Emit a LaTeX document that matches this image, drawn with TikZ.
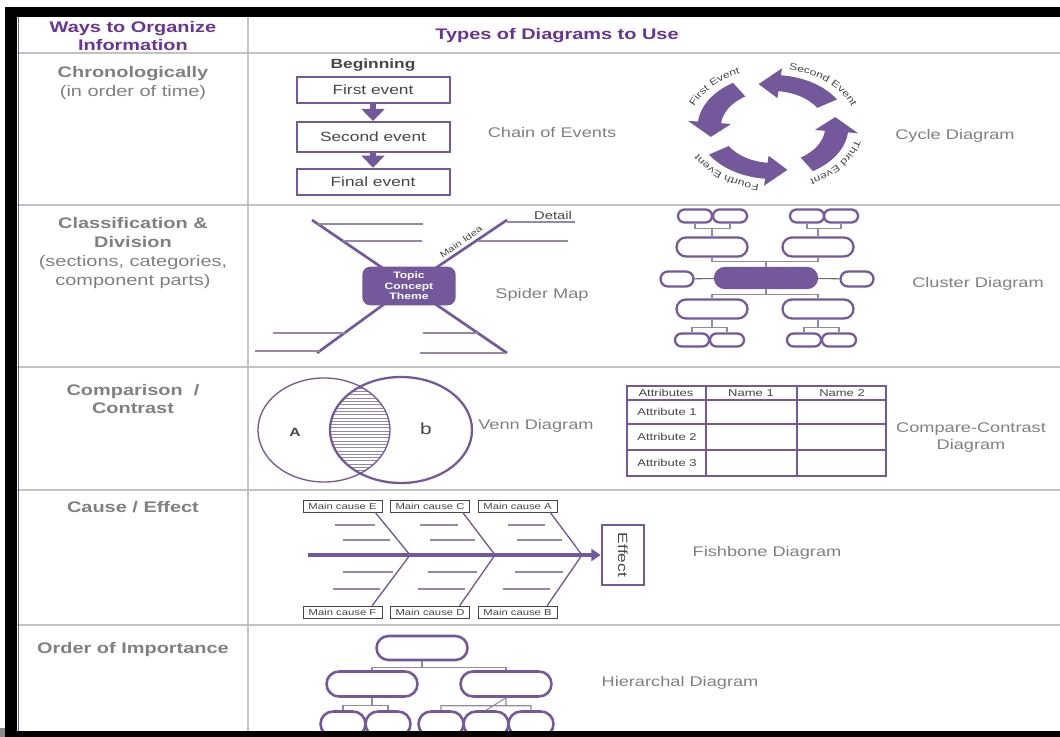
\documentclass[tikz,border=0pt]{standalone}
\usepackage{fontspec}
\setmainfont{Liberation Sans}[FakeStretch=1.3]
\usetikzlibrary{arrows.meta,positioning,shapes.misc,decorations.text}
\definecolor{orgpurple}{RGB}{115,88,155}
\definecolor{orghead}{RGB}{104,52,150}
\definecolor{orggray}{RGB}{128,128,128}
\definecolor{orgdark}{RGB}{70,70,70}
\definecolor{orgrule}{RGB}{195,195,195}
\definecolor{orgtwig}{RGB}{150,135,170}

\begin{document}
\begin{tikzpicture}[x=0.75pt,y=-0.75pt, every node/.style={inner sep=0pt},
    head/.style={font=\bfseries\fontsize{11.5}{12.8}\selectfont,text=orghead,align=center},
    rowlbl/.style={font=\fontsize{11.5}{14.2}\selectfont,text=orggray,align=center},
    kind/.style={font=\fontsize{10.5}{12.8}\selectfont,text=orggray,align=center},
    evbox/.style={draw=orgpurple,line width=1.5pt,minimum width=114.75pt,minimum height=20pt,font=\fontsize{10}{12}\selectfont,text=orgdark},
    evarrow/.style={orgpurple,line width=4pt,-{Triangle[width=17pt,length=9pt]}},
    leg/.style={orgpurple,line width=2pt},
    twig/.style={orgtwig,line width=0.8pt},
    pill/.style={rounded rectangle,draw=orgpurple,line width=1.7pt},
    smalltxt/.style={font=\fontsize{6.5}{7.5}\selectfont,text=orgdark},
    cause/.style={smalltxt,draw=orgdark,line width=0.5pt,minimum width=59pt,minimum height=9pt},
    tbltxt/.style={font=\fontsize{7.5}{9}\selectfont,text=orgdark},
    topic/.style={fill=orgpurple,rounded corners=6pt,minimum width=70pt,minimum height=29pt,align=center,text=white,font=\bfseries\fontsize{7}{8}\selectfont},
    cyclbl/.style={decorate,decoration={text along path,text align=center,text color=orgdark}}]
  \fill[white] (0,0) rectangle (1060,737);
  \useasboundingbox (0,0) rectangle (1060,737);
  % table rules
  \foreach \y in {53,205,367,490,625} \draw[orgrule,line width=0.9pt] (17,\y) -- (1060,\y);
  \draw[orgrule,line width=0.9pt] (248,17) -- (248,731);
  \draw[orgpurple,line width=1.2pt] (18.5,17) -- (18.5,731);

  \node[head] (hways) at (133,36) {Ways to Organize\\Information};
  \node[head] (htypes) at (557,36) {Types of Diagrams to Use};

  \node[rowlbl] (rchron) at (133,83) {\textbf{Chronologically}\\(in order of time)};
  \node[rowlbl] (rclass) at (133,253) {\textbf{Classification \&}\\\textbf{Division}\\(sections, categories,\\component parts)};
  \node[rowlbl] (rcomp) at (133,399) {\textbf{Comparison\ \ /}\\\textbf{Contrast}};
  \node[rowlbl] (rcause) at (133,507) {\textbf{Cause / Effect}};
  \node[rowlbl] (rorder) at (133,650) {\textbf{Order of Importance}};

  % chain of events
  \node[font=\bfseries\fontsize{10}{12}\selectfont,text=orgdark] (beg) at (373,65) {Beginning};
  \node[evbox] (ev1) at (373,90) {First event};
  \node[evbox,minimum height=22.5pt] (ev2) at (373,137) {Second event};
  \node[evbox] (ev3) at (373,182) {Final event};
  \foreach \a/\b in {ev1/ev2,ev2/ev3} \draw[evarrow] (\a) -- (\b);
  \node[kind] (lchain) at (552,133) {Chain of Events};

  % cycle
  \begin{scope}[shift={(773,127)},xscale=1.45,yscale=-1]
    \foreach \t in {32,122,212,302}
      \fill[orgpurple] (\t:52) arc[start angle=\t,end angle=\t+52,radius=52] -- (\t+52:59) -- (\t+71:44)
        -- (\t+52:29) -- (\t+52:36) arc[start angle=\t+52,end angle=\t,radius=36] -- cycle;
    \path[cyclbl,decoration={text={|\fontsize{7}{8}\selectfont|First Event}}] (179:58) arc[start angle=179,end angle=99,radius=58];
    \path[cyclbl,decoration={text={|\fontsize{7}{8}\selectfont|Second Event}}] (88:58) arc[start angle=88,end angle=8,radius=58];
    \path[cyclbl,decoration={text={|\fontsize{7}{8}\selectfont|Third Event}}] (4:58) arc[start angle=4,end angle=-76,radius=58];
    \path[cyclbl,decoration={text={|\fontsize{7}{8}\selectfont|Fourth Event}}] (-88:58) arc[start angle=-88,end angle=-168,radius=58];
  \end{scope}
  \node[kind] (lcycle) at (955,136) {Cycle Diagram};

  % spider map
  \coordinate (ul) at (312,220);
  \coordinate (ur) at (507,220);
  \coordinate (ll) at (317,353);
  \coordinate (lr) at (507,353);
  \node[topic] (topic) at (409,286) {Topic\\Concept\\Theme};
  \foreach \c in {ul,ur,ll,lr} \draw[leg,shorten <=-4pt] (topic) -- (\c);
  \foreach \xa/\xb/\y in {318/423/224,343/422/241,507/575/222,478/568/241,273/345/333,255/320/351,423/478/333,420/505/353}
    \draw[twig] (\xa,\y) -- (\xb,\y);
  \node[smalltxt,rotate=35] (mainidea) at (461,242) {Main Idea};
  \node[font=\fontsize{8.5}{10}\selectfont,text=orgdark] (detail) at (553,215) {Detail};
  \node[kind] (lspider) at (542,295) {Spider Map};

  % cluster
  \node[pill,fill=orgpurple,minimum width=76.5pt,minimum height=15pt] (cmain) at (766,278) {};
  \node[pill,minimum width=24.75pt,minimum height=11.25pt] (cleft) at (677,279) {};
  \node[pill,minimum width=24.75pt,minimum height=11.25pt] (cright) at (857,279) {};
  \foreach \n/\x/\y in {cul/712/247,cur/818/247,cll/712/309,clr/818/309}
    \node[pill,minimum width=53.25pt,minimum height=14.25pt] (\n) at (\x,\y) {};
  \foreach \n/\x/\y in {cul1/695/216,cul2/730/216,cur1/807/216,cur2/841/216,cll1/692/340,cll2/727/340,clr1/804/340,clr2/839/340}
    \node[pill,minimum width=25.5pt,minimum height=9.75pt] (\n) at (\x,\y) {};
  \draw[twig,orgdark!80] (cleft) -- (cmain) (cmain) -- (cright);
  \foreach \p/\d/\a/\b in {cmain.north/-5.5/cul.south/cur.south,cmain.south/5.5/cll.north/clr.north,
      cul.north/-7.5/cul1.south/cul2.south,cur.north/-7.5/cur1.south/cur2.south,
      cll.south/7.5/cll1.north/cll2.north,clr.south/7.5/clr1.north/clr2.north}
    \draw[twig] (\p) -- ++(0,\d) -| (\a) (\p) ++(0,\d) -| (\b);
  \node[kind] (lcluster) at (978,284) {Cluster Diagram};

  % venn
  \begin{scope}
    \clip (324,430) ellipse[x radius=66,y radius=52];
    \clip (401,430) ellipse[x radius=71,y radius=53];
    \foreach \y in {375,378.3,...,486} \draw[twig,line width=0.5pt] (320,\y) -- (400,\y);
  \end{scope}
  \draw[orgpurple,line width=1pt] (324,430) ellipse[x radius=66,y radius=52];
  \draw[orgpurple,line width=1.7pt] (401,430) ellipse[x radius=71,y radius=53];
  \node[font=\bfseries\fontsize{9}{10}\selectfont,text=orgdark] (vA) at (295,432) {A};
  \node[font=\fontsize{12}{13}\selectfont,text=orgdark] (vB) at (426,429) {b};
  \node[kind,anchor=west] (lvenn) at (478,426) {Venn Diagram};

  % compare table
  \draw[orgpurple,line width=1pt] (706,386) -- (706,476) (797,386) -- (797,476) (627,424) -- (886,424) (627,450) -- (886,450);
  \draw[orgpurple,line width=2.2pt] (627,386) rectangle (886,476) (627,400) -- (886,400);
  \node[tbltxt] (tattr) at (666,393) {Attributes};
  \node[tbltxt] (tname1) at (751,393) {Name 1};
  \node[tbltxt] (tname2) at (842,393) {Name 2};
  \node[tbltxt] (tatt1) at (667,412) {Attribute 1};
  \node[tbltxt] (tatt2) at (667,437) {Attribute 2};
  \node[tbltxt] (tatt3) at (667,463) {Attribute 3};
  \node[kind] (lcompare) at (971,438) {Compare-Contrast\\Diagram};

  % fishbone
  \node[draw=orgpurple,line width=1.5pt,rotate=-90,minimum width=45pt,minimum height=32pt,font=\fontsize{10}{12}\selectfont,text=orgdark] (effect) at (623,555) {Effect};
  \coordinate (tail) at (308,555);
  \draw[orgpurple,line width=3pt,-{Triangle[width=9pt,length=7pt]}] (tail) -- (effect);
  \foreach \n/\x in {E/342.5,C/430,A/517.5} \node[cause] (c\n) at (\x,506) {Main cause \n};
  \foreach \n/\x in {F/342.5,D/430,B/517.5} \node[cause] (c\n) at (\x,612) {Main cause \n};
  \coordinate (jE) at (410,555);
  \coordinate (jC) at (495,555);
  \coordinate (jA) at (582,555);
  \foreach \t/\b/\j in {cE/cF/jE,cC/cD/jC,cA/cB/jA}
    \draw[orgpurple,line width=1pt] (\t.south east) ++(-7,0) -- (\j) -- ([xshift=-7.5pt]\b.north east);
  \foreach \xa/\xb/\y in {335/375/525,343/390/540,343/393/572,333/380/589,
      420/458/525,430/475/540,428/477/572,418/465/589,
      508/545/525,517/562/540,515/563/572,503/550/589}
    \draw[twig] (\xa,\y) -- (\xb,\y);
  \node[kind] (lfish) at (767,553) {Fishbone Diagram};

  % hierarchy
  \node[pill,line width=1.9pt,minimum width=68.25pt,minimum height=18pt] (htop) at (422,648) {};
  \node[pill,line width=1.9pt,minimum width=68.25pt,minimum height=18.75pt] (hl) at (372,684) {};
  \node[pill,line width=1.9pt,minimum width=68.25pt,minimum height=18.75pt] (hr) at (506,684) {};
  \foreach \n/\x in {hl1/343,hl2/388,hr1/441,hr2/486,hr3/531}
    \node[pill,line width=1.9pt,minimum width=33.75pt,minimum height=18.75pt] (\n) at (\x,724) {};
  \draw[twig] (htop.south) -- ++(0,6) -| (hl.north) (htop.south) ++(0,6) -| (hr.north);
  \draw[twig] (hl.south) -- ++(0,8) -| (hl1.north) (hl.south) ++(0,8) -| (hl2.north);
  \draw[twig] (hr.south) -- ++(0,8) -| (hr1.north) (hr.south) ++(0,8) -| (hr3.north) (hr.south) -- (hr2.north);
  \node[kind] (lhier) at (680,683) {Hierarchal Diagram};

  % frame
  \fill[black] (5,7) rectangle (1060,17);
  \fill[black] (5,7) rectangle (17,737);
  \fill[black] (5,731) rectangle (1060,737);
  \fill[black!45] (0,728) rectangle (5,737);
\end{tikzpicture}
\end{document}
